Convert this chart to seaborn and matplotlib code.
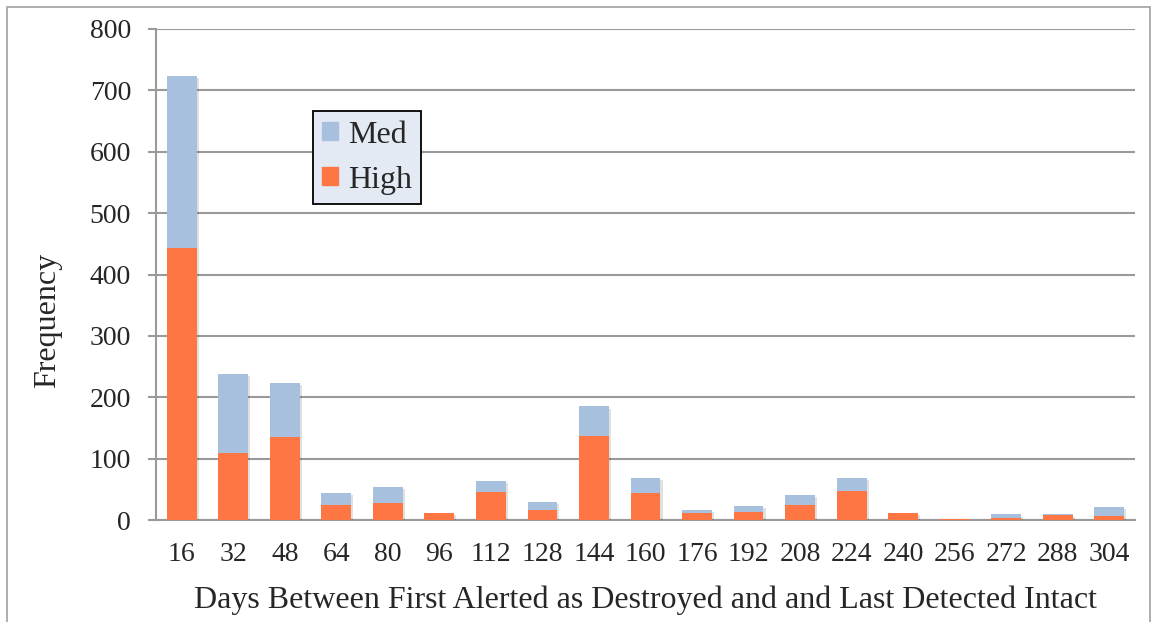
import matplotlib
matplotlib.use("Agg")
import matplotlib.pyplot as plt
import matplotlib.patches as mpatches
import matplotlib.patheffects as pe
import seaborn as sns
import pandas as pd

# Days between first alert as destroyed and last detection as intact
days = [16, 32, 48, 64, 80, 96, 112, 128, 144, 160, 176, 192, 208, 224, 240, 256, 272, 288, 304]
high = [443, 109, 135, 24, 28, 11, 45, 16, 137, 44, 11, 13, 24, 47, 11, 1, 4, 8, 7]
med = [281, 129, 88, 20, 26, 0, 18, 14, 48, 25, 6, 10, 17, 22, 1, 1, 5, 1, 14]

MED_COLOR = "#a7c0de"
HIGH_COLOR = "#fe7643"
GRID_COLOR = "#9a9a9a"

sns.set_theme(style="white")
plt.rcParams["font.family"] = ["Liberation Serif", "DejaVu Serif"]

df = pd.DataFrame({
    "days": [str(d) for d in days],
    "high": high,
    "total": [h + m for h, m in zip(high, med)],
})
order = df["days"].tolist()

fig = plt.figure(figsize=(11.57, 6.22), dpi=100)
ax = fig.add_axes([156 / 1157, 1 - 520 / 622, 979 / 1157, 491 / 622])

# Stacked bars: full height in the Med colour, High drawn over its lower part
sns.barplot(data=df, x="days", y="total", order=order, color=MED_COLOR,
            saturation=1, width=0.58, ax=ax, zorder=3)
n_med = len(ax.patches)
sns.barplot(data=df, x="days", y="high", order=order, color=HIGH_COLOR,
            saturation=1, width=0.58, ax=ax, zorder=4)
shadow = [pe.SimplePatchShadow(offset=(1.5, -1.5), shadow_rgbFace="#000000", alpha=0.12),
          pe.Normal()]
for i, p in enumerate(ax.patches):
    p.set_edgecolor("none")
    if i < n_med:
        p.set_path_effects(shadow)

ax.set_xlim(-0.5, len(days) - 0.5)
ax.set_ylim(0, 800)
ax.set_yticks(range(0, 801, 100))
ax.yaxis.grid(True, color=GRID_COLOR, linewidth=1.5)
ax.set_axisbelow(True)

for side in ("top", "right"):
    ax.spines[side].set_visible(False)
for side in ("left", "bottom"):
    ax.spines[side].set_color(GRID_COLOR)
    ax.spines[side].set_linewidth(1.5)

ax.tick_params(axis="y", which="major", left=True, length=6, width=1.5,
               color=GRID_COLOR, labelsize=20, pad=12)
ax.tick_params(axis="x", which="major", bottom=False, labelsize=20, pad=10)

ax.set_xlabel("Days Between First Alerted as Destroyed and and Last Detected Intact",
              fontsize=23, labelpad=13)
ax.set_ylabel("Frequency", fontsize=23, va="center")
ax.yaxis.set_label_coords(-0.111, 0.407)

handles = [mpatches.Patch(color=MED_COLOR, label="Med"),
           mpatches.Patch(color=HIGH_COLOR, label="High")]
leg = ax.legend(handles=handles, loc="upper left", bbox_to_anchor=(0.160, 0.833),
                fontsize=23, frameon=True, fancybox=False, framealpha=1,
                handlelength=0.5, handleheight=0.5, handletextpad=0.3,
                borderpad=0.3, labelspacing=0.5, borderaxespad=0)
leg.get_frame().set_facecolor("#e4eaf4")
leg.get_frame().set_edgecolor("black")
leg.get_frame().set_linewidth(1.3)

# Outer chart border
fig.patches.append(mpatches.Rectangle((7 / 1157, -0.05), 1143 / 1157, 1.05 - 7 / 622,
                                      transform=fig.transFigure, fill=False,
                                      edgecolor="#a0a0a0", linewidth=1.2))

fig.savefig("out.png", dpi=100)
